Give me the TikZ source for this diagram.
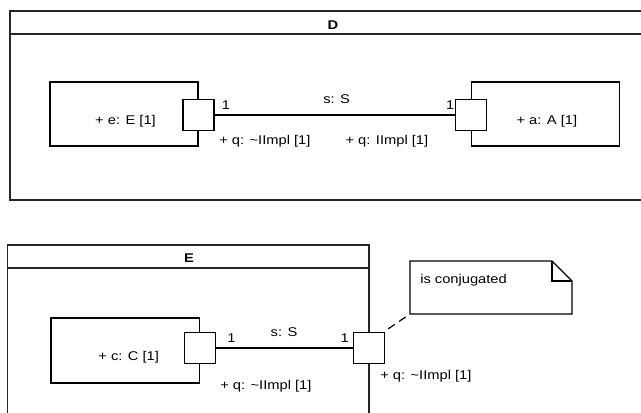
\documentclass[tikz,border=0pt]{standalone}
\usepackage{fontspec}
\setmainfont{Liberation Sans}[FakeStretch=1.16]
\begin{document}
\begin{tikzpicture}[x=0.75pt,y=-0.75pt,
  font=\fontsize{9.5}{11}\selectfont,
  frame/.style={draw=black!85, line width=0.8pt},
  part/.style={draw, line width=0.9pt, minimum width=111pt, minimum height=48pt, inner sep=0pt},
  portbox/.style={draw, fill=white, line width=0.9pt, minimum size=23.25pt, inner sep=0pt},
  conn/.style={line width=1.5pt},
  lblw/.style={inner sep=0pt, anchor=base west},
  lble/.style={inner sep=0pt, anchor=base east},
  lblc/.style={inner sep=0pt, anchor=base},
  title/.style={inner sep=0pt, anchor=base, font=\fontsize{9.5}{11}\selectfont\bfseries},
  notebox/.style={draw, line width=0.9pt, fill=white},
  notelink/.style={line width=0.9pt, dash pattern=on 6pt off 4pt}]
\clip (0,0) rectangle (641,413);
\fill[white] (0,0) rectangle (641,413);

% ---- frame D ----
\coordinate (Dtl) at (10,11);
\coordinate (Dbl) at (10,200);
\draw[frame] (660,11) -- (Dtl) -- (Dbl) -- (660,200);
\draw[frame] (10,34) -- (660,34);
\node[title] (Dt) at (333,30) {D};

\node[part] (ebox) at (124,114) {};
\node[lblc] (elbl) at (125.5,124.3) {+ e: E [1]};
\node[part] (abox) at (545.5,114) {};
\node[lblc] (albl) at (546.8,124.3) {+ a: A [1]};
\node[portbox] (ep) at (198.5,115) {};
\node[portbox] (ap) at (470.7,115) {};
\draw[conn] (ep) -- (ap);
\node[lblw] (m1) at (221.5,110) {1};
\node[lble] (m2) at (454.5,110) {1};
\node[lblc] (s1) at (336.7,104) {s: S};
\node[lblw] (q1) at (219,145) {+ q: \textasciitilde IImpl [1]};
\node[lblw] (q2) at (345.3,145) {+ q: IImpl [1]};

% ---- frame E ----
\coordinate (Etl) at (7.5,245);
\coordinate (Etr) at (369,245);
\draw[frame] (369,430) -- (Etr) -- (Etl) -- (7.5,430);
\draw[frame] (7.5,268) -- (369,268);
\node[title] (Et) at (189,262) {E};

\node[part, minimum width=111.4pt, minimum height=48.75pt] (cbox) at (125.25,350.5) {};
\node[lblc] (clbl) at (128.7,360) {+ c: C [1]};
\node[portbox] (cp) at (199.7,348) {};
\node[portbox] (bp) at (369,348) {};
\draw[conn] (cp) -- (bp);
\node[lblw] (m3) at (227,342.7) {1};
\node[lble] (m4) at (349,342.7) {1};
\node[lblc] (s2) at (284,336) {s: S};
\node[lblw] (q3) at (220,389) {+ q: \textasciitilde IImpl [1]};
\node[lblw] (q4) at (380,379) {+ q: \textasciitilde IImpl [1]};

% ---- note ----
\coordinate (nsw) at (410,314);
\draw[notebox] (410,261) -- (552,261) -- (572,281) -- (572,314) -- (nsw) -- cycle;
\draw[line width=0.9pt] (552,261) -- (552,281) -- (572,281);
\node[lblw] (ntxt) at (420,283.7) {is conjugated};
\draw[notelink] ([shift={(3,-3)}]bp.north east) -- (nsw);
\end{tikzpicture}
\end{document}
